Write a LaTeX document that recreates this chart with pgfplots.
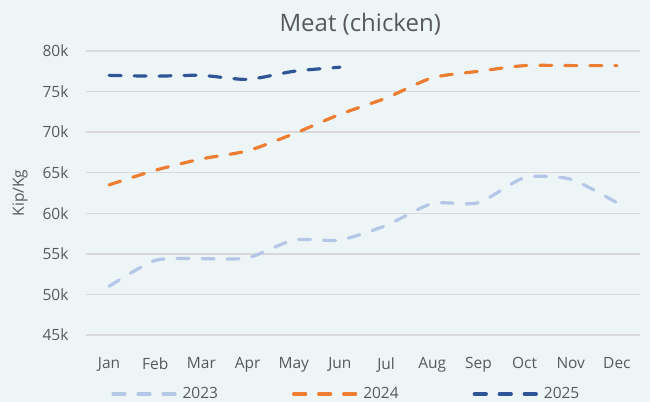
\documentclass[border=0pt]{standalone}
\usepackage{pgfplots}
\pgfplotsset{compat=1.18}
\usepackage{fontspec}
\setmainfont{Open Sans}
\definecolor{bg}{HTML}{EEF5F7}
\definecolor{c23}{HTML}{B4C7E7}
\definecolor{c24}{HTML}{ED7D31}
\definecolor{c25}{HTML}{2F5597}
\definecolor{txt}{HTML}{595959}
\definecolor{gridclr}{HTML}{D9D9D9}
\begin{document}
\begin{tikzpicture}
\path[use as bounding box, fill=bg] (-86bp,-67bp) rectangle (564bp,335bp);
\begin{axis}[
  scale only axis,
  width=554bp, height=284bp,
  xmin=-0.5, xmax=11.5, ymin=45000, ymax=80000,
  xtick={0,...,11},
  xticklabels={Jan,Feb,Mar,Apr,May,Jun,Jul,Aug,Sep,Oct,Nov,Dec},
  ytick={45000,50000,...,80000},
  yticklabels={45k,50k,55k,60k,65k,70k,75k,80k},
  scaled y ticks=false,
  axis line style={draw=none},
  major tick length=0pt,
  xmajorgrids=false,
  ymajorgrids, major grid style={draw=gridclr, line width=1.3bp},
  ticklabel style={font=\fontsize{15.5bp}{18bp}\selectfont, text=txt},
  yticklabel style={xshift=-14bp},
  xticklabel style={yshift=-19bp},
  ylabel={Kip/Kg},
  ylabel style={font=\fontsize{15.5bp}{18bp}\selectfont, text=txt, at={(-66bp,0.5)}, anchor=center},
  title={Meat (chicken)},
  title style={font=\fontsize{24bp}{27bp}\selectfont, text=txt, at={(0.495,1)}, yshift=6bp},
  legend style={at={(0.47,-0.208)}, anchor=center, draw=none, fill=none,
    font=\fontsize{15.5bp}{18bp}\selectfont, text=txt,
    /tikz/every even column/.append style={column sep=72bp}},
  legend columns=3,
  legend image code/.code={\draw[#1] (0bp,0bp) -- (66bp,0bp);},
]
\addplot[c23, line width=3.2bp, line cap=round, dash pattern=on 12bp off 13bp, smooth, tension=0.4] coordinates {(0,51000)(1,54200)(2,54400)(3,54500)(4,56700)(5,56700)(6,58500)(7,61200)(8,61300)(9,64400)(10,64200)(11,61300)};
\addlegendentry{2023}
\addplot[c24, line width=3.2bp, line cap=round, dash pattern=on 12bp off 13bp, smooth, tension=0.4] coordinates {(0,63500)(1,65300)(2,66700)(3,67700)(4,69800)(5,72200)(6,74200)(7,76700)(8,77500)(9,78200)(10,78200)(11,78200)};
\addlegendentry{2024}
\addplot[c25, line width=3.2bp, line cap=round, dash pattern=on 12bp off 13bp, smooth, tension=0.4] coordinates {(0,77000)(1,76900)(2,77000)(3,76500)(4,77500)(5,78000)};
\addlegendentry{2025}
\end{axis}
\end{tikzpicture}
\end{document}
